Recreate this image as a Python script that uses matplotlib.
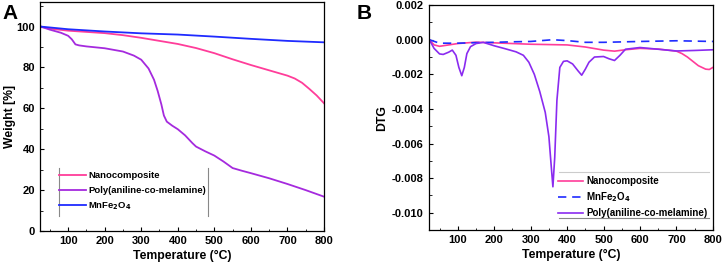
import matplotlib
matplotlib.use("Agg")
import matplotlib.pyplot as plt
from matplotlib.lines import Line2D

plt.rcParams['font.family'] = ['Liberation Sans', 'DejaVu Sans']
plt.rcParams['font.weight'] = 'bold'

# ---- Panel A: TGA ----
tA_nano = [25, 50, 100, 150, 200, 250, 300, 350, 400, 450, 500, 550, 600, 650, 700, 720, 740, 760, 780, 800]
wA_nano = [100, 99.0, 98.0, 97.4, 96.8, 95.8, 94.5, 93.0, 91.5, 89.5, 87.0, 84.0, 81.2, 78.6, 76.0, 74.6, 72.5, 69.5, 66.3, 62.5]

tA_poly = [25, 50, 80, 100, 110, 120, 130, 150, 200, 250, 280, 300, 320, 335, 345, 355, 362, 370, 385, 400, 420, 440, 450, 475, 500, 525, 550, 575, 600, 650, 700, 750, 800]
wA_poly = [100, 98.5, 97.0, 95.5, 93.8, 91.3, 90.8, 90.3, 89.4, 87.8, 85.8, 83.8, 79.5, 74.0, 68.5, 62.0, 56.5, 53.5, 51.5, 49.8, 46.8, 43.0, 41.3, 39.0, 36.9, 34.0, 30.8, 29.5, 28.3, 25.8, 23.0, 20.0, 16.8]

tA_mn = [25, 100, 200, 300, 400, 500, 600, 700, 800]
wA_mn = [100, 98.7, 97.6, 96.7, 96.1, 95.1, 94.0, 93.0, 92.3]

# ---- Panel B: DTG ----
tB_nano = [22, 35, 50, 75, 100, 150, 200, 250, 300, 350, 400, 450, 500, 530, 560, 600, 650, 700, 715, 730, 745, 760, 780, 790, 800]
dB_nano = [0.0, -0.0003, -0.00038, -0.0003, -0.00022, -0.00014, -0.00018, -0.00022, -0.00026, -0.00028, -0.0003, -0.00042, -0.0006, -0.00066, -0.00058, -0.0005, -0.00054, -0.00066, -0.0008, -0.001, -0.00125, -0.0015, -0.0017, -0.00172, -0.0016]

tB_mn = [22, 50, 100, 150, 200, 250, 300, 360, 400, 450, 500, 600, 700, 800]
dB_mn = [0.0, -0.0002, -0.0002, -0.00017, -0.00015, -0.00012, -0.0001, 0.0, -0.00005, -0.00015, -0.00015, -0.0001, -0.00006, -0.0001]

tB_poly = [22, 35, 50, 60, 75, 85, 95, 103, 111, 118, 125, 135, 150, 170, 200, 230, 260, 280, 295, 310, 325, 340, 350, 356, 361, 366, 372, 380, 390, 400, 415, 430, 440, 450, 460, 475, 500, 515, 530, 545, 560, 600, 650, 700, 750, 800]
dB_poly = [0.0, -0.0005, -0.00082, -0.00085, -0.00072, -0.0006, -0.0009, -0.0016, -0.00208, -0.0016, -0.0008, -0.0004, -0.00022, -0.00015, -0.00035, -0.00052, -0.0007, -0.0009, -0.0013, -0.002, -0.003, -0.0042, -0.0056, -0.0072, -0.0085, -0.0068, -0.0035, -0.0016, -0.00125, -0.00122, -0.0014, -0.0018, -0.00205, -0.0017, -0.0013, -0.001, -0.00097, -0.0011, -0.0012, -0.0009, -0.00055, -0.00045, -0.00055, -0.00065, -0.00062, -0.00058]

c_nano = '#FF3D9A'
c_polyA = '#A52ADE'
c_polyB = '#8A2BF0'
c_mn = '#1F2BFF'

fig = plt.figure(figsize=(7.24, 2.70), dpi=100)
axA = fig.add_axes([0.0552, 0.1444, 0.3923, 0.848])
axB = fig.add_axes([0.592, 0.148, 0.3927, 0.833])

tick_kw = dict(direction='in', labelsize=8, width=0.8)

# Panel A
axA.plot(tA_nano, wA_nano, color=c_nano, lw=1.3, label='Nanocomposite')
axA.plot(tA_poly, wA_poly, color=c_polyA, lw=1.3, label='Poly(aniline-co-melamine)')
axA.plot(tA_mn, wA_mn, color=c_mn, lw=1.3, label=r'MnFe$_2$O$_4$')
axA.set_xlim(23, 800)
axA.set_ylim(0, 112)
axA.set_xticks([100, 200, 300, 400, 500, 600, 700, 800])
axA.set_xticks(range(50, 801, 100), minor=True)
axA.set_yticks([0, 20, 40, 60, 80, 100])
axA.set_yticks(range(10, 111, 20), minor=True)
axA.tick_params(which='major', length=3, **tick_kw)
axA.tick_params(which='minor', direction='in', length=1.8, width=0.6)
for lab in axA.get_xticklabels() + axA.get_yticklabels():
    lab.set_fontweight('bold')
axA.set_xlabel('Temperature (°C)', fontsize=8.8, fontweight='bold', labelpad=3)
axA.set_ylabel('Weight [%]', fontsize=8.8, fontweight='bold', labelpad=0.5)
legA = axA.legend(loc='upper left', bbox_to_anchor=(0.062, 0.265), frameon=False,
                  fontsize=6.8, handlelength=2.9, handletextpad=0.25, labelspacing=0.6,
                  borderaxespad=0, borderpad=0.1)
for t in legA.get_texts():
    t.set_fontweight('bold')
axA.add_line(Line2D([0.067, 0.067], [0.065, 0.275], transform=axA.transAxes, color='#888888', lw=0.8))
axA.add_line(Line2D([0.59, 0.59], [0.065, 0.275], transform=axA.transAxes, color='#888888', lw=0.8))
for s in axA.spines.values():
    s.set_linewidth(0.9)
fig.text(0.003, 0.985, 'A', fontsize=15, fontweight='bold', va='top', ha='left')

# Panel B
axB.plot(tB_nano, dB_nano, color=c_nano, lw=1.2, label='Nanocomposite')
axB.plot(tB_mn, dB_mn, color=c_mn, lw=1.2, ls=(0, (5, 3.5)), label=r'MnFe$_2$O$_4$')
axB.plot(tB_poly, dB_poly, color=c_polyB, lw=1.2, label='Poly(aniline-co-melamine)')
axB.set_xlim(20, 800)
axB.set_ylim(-0.011, 0.002)
axB.set_xticks([100, 200, 300, 400, 500, 600, 700, 800])
axB.set_xticks(range(50, 801, 100), minor=True)
axB.set_yticks([0.002, 0.0, -0.002, -0.004, -0.006, -0.008, -0.010])
axB.set_yticks([0.001, -0.001, -0.003, -0.005, -0.007, -0.009], minor=True)
axB.set_yticklabels(['0.002', '0.000', '-0.002', '-0.004', '-0.006', '-0.008', '-0.010'])
axB.tick_params(which='major', length=3, **tick_kw)
axB.tick_params(which='minor', direction='in', length=1.8, width=0.6)
for lab in axB.get_xticklabels() + axB.get_yticklabels():
    lab.set_fontweight('bold')
axB.set_xlabel('Temperature (°C)', fontsize=8.8, fontweight='bold', labelpad=3)
axB.set_ylabel('DTG', fontsize=8.8, fontweight='bold', labelpad=3)
legB = axB.legend(loc='upper left', bbox_to_anchor=(0.452, 0.245), frameon=False,
                  fontsize=7, handlelength=2.6, handletextpad=0.3, labelspacing=0.45,
                  borderaxespad=0, borderpad=0.1)
for t in legB.get_texts():
    t.set_fontweight('bold')
axB.add_line(Line2D([0.457, 0.985], [0.258, 0.258], transform=axB.transAxes, color='#cccccc', lw=0.8))
axB.add_line(Line2D([0.457, 0.985], [0.053, 0.053], transform=axB.transAxes, color='#888888', lw=0.8))
for s in axB.spines.values():
    s.set_linewidth(0.9)
fig.text(0.493, 0.985, 'B', fontsize=15, fontweight='bold', va='top', ha='left')

fig.savefig('out.png', dpi=100)
